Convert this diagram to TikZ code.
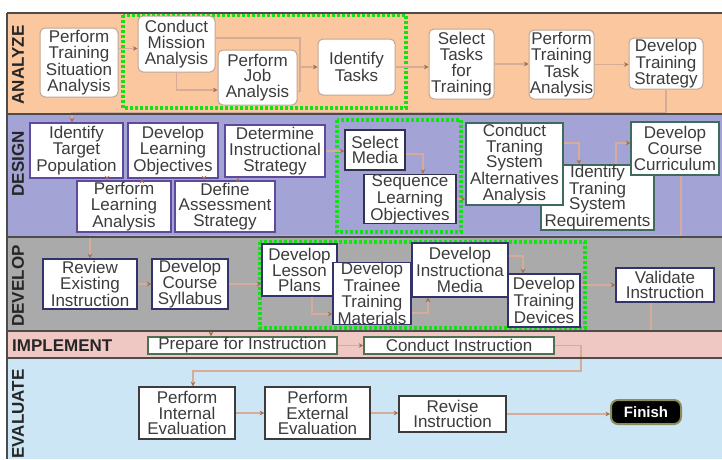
\documentclass[tikz,border=0pt]{standalone}
\usepackage{fontspec}
\setmainfont{Liberation Sans}
\usetikzlibrary{arrows.meta}

\definecolor{anbg}{RGB}{250,199,158}
\definecolor{debg}{RGB}{163,163,214}
\definecolor{dvbg}{RGB}{170,170,170}
\definecolor{imbg}{RGB}{240,200,195}
\definecolor{evbg}{RGB}{205,230,245}
\definecolor{anbord}{RGB}{190,165,150}
\definecolor{debord}{RGB}{94,74,156}
\definecolor{smbord}{RGB}{47,51,80}
\definecolor{tlbord}{RGB}{62,107,94}
\definecolor{dvbord}{RGB}{51,51,107}
\definecolor{imbord}{RGB}{79,112,80}
\definecolor{evbord}{RGB}{60,60,60}
\definecolor{grpgreen}{RGB}{20,225,20}
\definecolor{linkc}{RGB}{214,172,152}
\definecolor{tipc}{RGB}{160,110,80}
\definecolor{txt}{RGB}{60,60,60}
\definecolor{finc}{RGB}{140,140,90}

\newcommand{\boxfont}{\fontsize{17}{15.8}\selectfont}

\begin{document}
\begin{tikzpicture}[x=1pt,y=-1pt,
      box/.style={fill=white, inner sep=0pt, align=center, font=\boxfont, text=txt},
      boxsize/.style 2 args={minimum width=#1pt, minimum height=#2pt},
      anode/.style={box, draw=anbord, line width=1pt, rounded corners=5pt},
      dnode/.style={box, draw=debord, line width=1.5pt},
      snode/.style={box, draw=smbord, line width=1.5pt},
      tnode/.style={box, draw=tlbord, line width=1.5pt},
      vnode/.style={box, draw=dvbord, line width=1.5pt},
      inode/.style={box, draw=imbord, line width=1.5pt},
      enode/.style={box, draw=evbord, line width=1.5pt},
      finbox/.style={fill=black, draw=finc, line width=2pt, rounded corners=7pt,
         inner sep=0pt, text=white, font=\fontsize{15}{15}\selectfont\bfseries},
      lbl/.style={inner sep=0pt, text=black!85, font=\fontsize{17}{17}\selectfont\bfseries},
      grp/.style={draw=grpgreen, line width=3.2pt, dash pattern=on 3pt off 2pt},
      sep/.style={draw=black!70, line width=1.6pt},
      line/.style={draw=linkc, line width=1.6pt},
      link/.style={line, -{Stealth[length=4.5pt,width=4.5pt,color=tipc]}}
      ]
      \useasboundingbox (0,0) rectangle (722,459);
      \fill[white] (0,0) rectangle (722,459);

      % phase bands
      \fill[anbg] (7,13) rectangle (722,114);
      \fill[debg] (7,114) rectangle (722,237);
      \fill[dvbg] (7,237) rectangle (722,331);
      \fill[imbg] (7,331) rectangle (722,358);
      \fill[evbg] (7,358) rectangle (722,459);

      % dotted groups
      \draw[grp] (123,15) rectangle (406,108);
      \draw[grp] (337,120) rectangle (461,232);
      \draw[grp] (260,242) rectangle (585,328);

      % band labels
      \node[lbl, rotate=90] (lana) at (18,65) {ANALYZE};
      \node[lbl, rotate=90] (ldes) at (18,164) {DESIGN};
      \node[lbl, rotate=90] (ldev) at (18,286) {DEVELOP};
      \node[lbl, anchor=west] (limp) at (12,346) {IMPLEMENT};
      \node[lbl, rotate=90] (leva) at (18,414) {EVALUATE};

      % analyze
      \node[anode, boxsize={78}{69}] (ptsa) at (79,62.5) {Perform\\Training\\Situation\\Analysis};
      \node[anode, boxsize={77}{56}] (cma) at (176.5,44) {Conduct\\Mission\\Analysis};
      \node[anode, boxsize={79}{55}] (pja) at (257.5,77.5) {Perform\\Job\\Analysis};
      \node[anode, boxsize={77}{56}] (idt) at (356.5,67) {Identify\\Tasks};
      \node[anode, boxsize={65}{70}] (stt) at (461.5,64) {Select\\Tasks\\for\\Training};
      \node[anode, boxsize={65}{69}] (ptta) at (561.5,64.5) {Perform\\Training\\Task\\Analysis};
      \node[anode, boxsize={74}{51}] (dts) at (666,63.5) {Develop\\Training\\Strategy};

      % design
      \node[dnode, boxsize={93}{55}] (itp) at (76.5,150.5) {Identify\\Target\\Population};
      \node[dnode, boxsize={90}{55}] (dlo) at (173,150.5) {Develop\\Learning\\Objectives};
      \node[dnode, boxsize={100}{52}] (dis) at (275,151) {Determine\\Instructional\\Strategy};
      \node[dnode, boxsize={94}{51}] (pla) at (124,206.5) {Perform\\Learning\\Analysis};
      \node[dnode, boxsize={100}{51}] (das) at (225,206.5) {Define\\Assessment\\Strategy};
      \node[snode, boxsize={60}{40}] (sm) at (375,150) {Select\\Media};
      \node[snode, boxsize={92}{48}] (slo) at (410,199) {Sequence\\Learning\\Objectives};
      \node[tnode, boxsize={113}{65}] (itsr) at (597.5,197.5) {Identify\\Traning\\System\\Requirements};
      \node[tnode, boxsize={97}{82}] (ctsa) at (514.5,164) {Conduct\\Traning\\System\\Alternatives\\Analysis};
      \node[tnode, boxsize={88}{53}] (dcc) at (675,148.5) {Develop\\Course\\Curriculum};

      % develop
      \node[vnode, boxsize={94}{50}] (rei) at (90,284) {Review\\Existing\\Instruction};
      \node[vnode, boxsize={76}{50}] (dcs) at (190,284) {Develop\\Course\\Syllabus};
      \node[vnode, boxsize={75}{52}] (dlp) at (299.5,270) {Develop\\Lesson\\Plans};
      \node[vnode, boxsize={78}{61}] (dttm) at (372,293.5) {Develop\\Trainee\\Training\\Materials};
      \node[vnode, boxsize={96}{54}] (dim) at (460,270) {Develop\\Instructiona\\Media};
      \node[vnode, boxsize={72}{53}] (dtd) at (544,300.5) {Develop\\Training\\Devices};
      \node[vnode, boxsize={98}{34}] (vi) at (665,285) {Validate\\Instruction};

      % implement
      \node[inode, boxsize={189}{17}] (pfi) at (242.5,345.5) {Prepare for Instruction};
      \node[inode, boxsize={190}{17}] (ci) at (459,345.5) {Conduct Instruction};

      % evaluate
      \node[enode, boxsize={96}{52}] (pie) at (187,413) {Perform\\Internal\\Evaluation};
      \node[enode, boxsize={105}{52}] (pee) at (317.5,413) {Perform\\External\\Evaluation};
      \node[enode, boxsize={107}{36}] (ri) at (452.5,414) {Revise\\Instruction};
      \node[finbox, minimum width=70pt, minimum height=24pt] (fin) at (646,412) {Finish};

      % bend points
      \coordinate (jn) at (300,67);
      \coordinate (ad) at (72,113);
      \coordinate (dd) at (90,236);
      \coordinate (di) at (211,331);
      \coordinate (ce) at (581,371);

      % straight links
      \foreach \a/\b in {idt/stt, stt/ptta, ptta/dts, dis/sm, slo/ctsa,
         rei/dcs, dcs/dlp, pfi/ci, pie/pee, pee/ri, ri/fin}
         \draw[link] (\a.east) -- (\a.east -| \b.west);
      \draw[link] (vi.west -| dtd.east) -- (vi.west);

      % analyze links
      \draw[link] ([yshift=14pt]ptsa.east) -- ([yshift=14pt]ptsa.east -| cma.west);
      \draw[link] (cma.south) |- ([yshift=-12.5pt]pja.west);
      \draw[line] ([yshift=6pt]cma.east) -| (jn);
      \draw[line] ([yshift=-14pt]pja.east) -| (jn);
      \draw[link] (jn) -- (idt.west);
      \draw[link] (dts.south) |- (ad) -- (ad |- itp.north);

      % design links
      \draw[link] ([xshift=30.5pt]itp.south) -- ([xshift=30.5pt]itp.south |- pla.north);
      \draw[link] ([xshift=18pt]pla.north) -- ([xshift=18pt]pla.north |- dlo.south);
      \draw[link] ([xshift=31pt]dlo.south) -- ([xshift=31pt]dlo.south |- das.north);
      \draw[link] ([xshift=13pt]das.north) -- ([xshift=13pt]das.north |- dis.south);
      \draw[link] ([yshift=-4pt]sm.east) -| ([xshift=13pt]slo.north);
      \draw[link] ([yshift=21pt]ctsa.east) -| ([xshift=-18.5pt]itsr.north);
      \draw[link] ([xshift=18.5pt]itsr.north) |- ([yshift=5.5pt]dcc.west);
      \draw[link] ([xshift=6pt]dcc.south) |- (dd) -- (rei.north);

      % develop links
      \draw[link] ([xshift=12.5pt]dlp.south) |- ([yshift=-20.5pt]dttm.west);
      \draw[link] ([yshift=-19.5pt]dttm.east) -| ([xshift=-32pt]dim.south);
      \draw[link] ([yshift=14pt]dim.east) -| ([xshift=-21pt]dtd.north);
      \draw[link] ([xshift=-14pt]vi.south) |- (di) -- (di |- pfi.north);

      % implement to evaluate
      \draw[link] (ci.east) -| (ce) -| ([xshift=6pt]pie.north);

      % band borders
      \draw[sep] (7,13) -- (722,13);
      \draw[sep] (7,114) -- (722,114);
      \draw[sep] (7,237) -- (722,237);
      \draw[sep] (7,331) -- (722,331);
      \draw[sep] (7,358) -- (722,358);
      \draw[sep] (7,13) -- (7,459);
\end{tikzpicture}
\end{document}
